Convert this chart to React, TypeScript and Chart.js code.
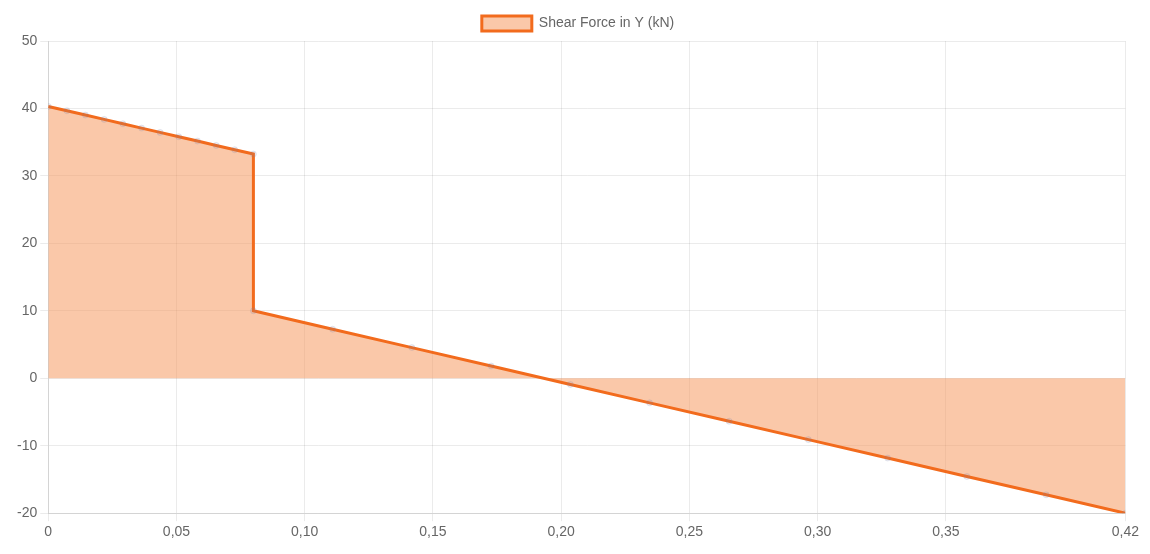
import React, { useEffect, useRef } from "react";
import { Chart, registerables } from "chart.js";

Chart.register(...registerables);

const positions: number[] = [
  0, 0.0073, 0.0145, 0.0218, 0.0291, 0.0364, 0.0436, 0.0509, 0.0582, 0.0655, 0.0727, 0.08,
  0.08, 0.1109, 0.1418, 0.1727, 0.2036, 0.2345, 0.2655, 0.2964, 0.3273, 0.3582, 0.3891, 0.42,
];
const shearY: number[] = [
  40.3, 39.66, 39.02, 38.38, 37.73, 37.09, 36.45, 35.81, 35.17, 34.52, 33.88, 33.24,
  10.0, 7.27, 4.55, 1.82, -0.91, -3.64, -6.37, -9.09, -11.82, -14.55, -17.27, -20.0,
];
const xTicks: number[] = [0, 0.05, 0.1, 0.15, 0.2, 0.25, 0.3, 0.35, 0.42];
const yTicks: number[] = [-20, -10, 0, 10, 20, 30, 40, 50];
const seriesLabel = "Shear Force in Y (kN)";

const fmt = (v: number) => (v === 0 ? "0" : v.toFixed(2).replace(".", ","));

export default function App() {
  const ref = useRef<HTMLCanvasElement | null>(null);
  useEffect(() => {
    if (!ref.current) return;
    const font = { family: "'Liberation Sans', Arial, sans-serif", size: 14 };
    const chart = new Chart(ref.current, {
      type: "line",
      data: {
        datasets: [
          {
            label: seriesLabel,
            data: positions.map((x, i) => ({ x, y: shearY[i] })),
            borderColor: "#f26b1d",
            backgroundColor: "rgba(246, 150, 90, 0.52)",
            borderWidth: 3,
            fill: "origin",
            tension: 0,
            pointRadius: 3,
            pointBorderWidth: 1,
            pointBackgroundColor: "rgba(120,130,170,0.15)",
            pointBorderColor: "rgba(120,130,170,0.15)",
          },
        ],
      },
      options: {
        animation: false,
        responsive: true,
        maintainAspectRatio: false,
        layout: { padding: { left: 6, right: 0, top: 0, bottom: 2 } },
        plugins: {
          legend: {
            labels: {
              font,
              color: "#666",
              boxWidth: 50,
              boxHeight: 15,
              padding: 8,
              useBorderRadius: false,
            },
          },
          tooltip: { enabled: false },
        },
        scales: {
          x: {
            type: "linear",
            min: 0,
            max: 0.42,
            afterBuildTicks: (axis: any) => {
              axis.ticks = xTicks.map((value) => ({ value }));
            },
            ticks: {
              font,
              color: "#666",
              maxRotation: 0,
              autoSkip: false,
              callback: (v: any) => fmt(Number(v)),
            },
            grid: { color: "rgba(0,0,0,0.08)" },
          },
          y: {
            min: -20,
            max: 50,
            afterBuildTicks: (axis: any) => {
              axis.ticks = yTicks.map((value) => ({ value }));
            },
            ticks: { font, color: "#666" },
            grid: { color: "rgba(0,0,0,0.08)" },
          },
        },
      },
    });
    return () => chart.destroy();
  }, []);
  return (
    <div style={{ width: 1134, height: 538, position: "relative" }}>
      <canvas ref={ref} />
    </div>
  );
}
